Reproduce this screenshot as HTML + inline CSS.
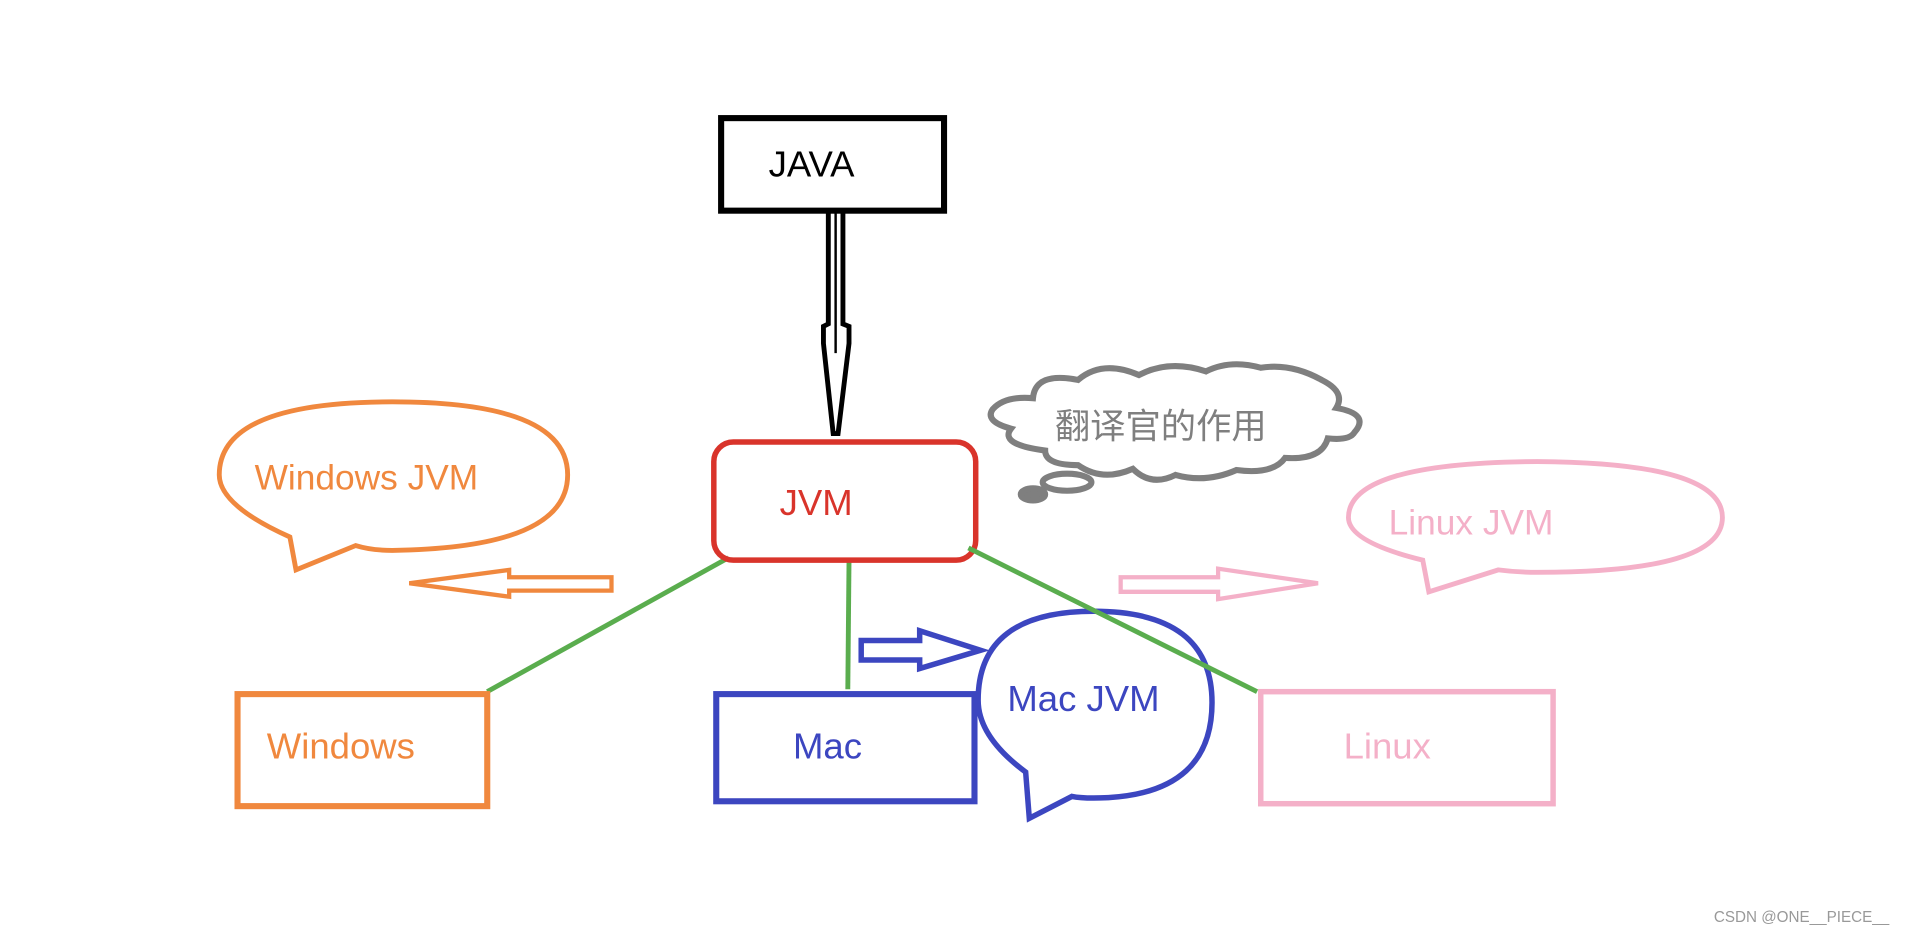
<!DOCTYPE html>
<html><head><meta charset="utf-8"><style>
html,body{margin:0;padding:0;background:#fff;}
svg{display:block;}
text{font-family:"Liberation Sans","Noto Sans CJK SC",sans-serif;}
</style></head><body>
<svg width="1910" height="934" viewBox="0 0 1568 767" preserveAspectRatio="none" xmlns="http://www.w3.org/2000/svg">
<rect width="1568" height="767" fill="#fff"/>
<!-- JAVA box -->
<rect x="592" y="97" width="183" height="76" fill="none" stroke="#000" stroke-width="5"/>
<text x="631" y="145" font-size="30" fill="#000">JAVA</text>
<!-- double arrow -->
<path d="M680 174 L680 266 L676 268 L676 282 L684 356 L688 356 L697 282 L697 268 L692 266 L692 174" fill="none" stroke="#000" stroke-width="4"/>
<path d="M686 174 L686 290" stroke="#000" stroke-width="2"/>
<!-- green lines -->
<g stroke="#5aad4e" stroke-width="4" fill="none">
<line x1="598" y1="458" x2="400" y2="568"/>
<line x1="697" y1="460" x2="696" y2="566"/>
</g>
<!-- JVM box -->
<rect x="586" y="363" width="215" height="97" rx="16" fill="none" stroke="#d9342b" stroke-width="4.5"/>
<text x="640" y="423" font-size="30" fill="#d9342b">JVM</text>
<!-- cloud -->
<g fill="#fff" stroke="#7f7f7f" stroke-width="5">
<path d="M848 327 Q850 305 885 312 Q905 295 935 308 Q960 295 990 305 Q1010 295 1035 302 Q1060 298 1085 312 Q1105 322 1097 335 Q1125 340 1112 355 Q1108 362 1090 360 Q1085 378 1055 376 Q1045 390 1015 386 Q990 397 965 390 Q945 400 930 385 Q905 396 885 382 Q858 382 858 370 Q820 365 830 352 Q808 346 815 336 Q825 325 848 327 Z"/>
<ellipse cx="876" cy="396" rx="20" ry="7"/>
<ellipse cx="848" cy="406" rx="10" ry="5" fill="#7f7f7f"/>
</g>
<text x="866" y="360" font-size="29" fill="#7f7f7f">翻译官的作用</text>
<!-- Windows JVM bubble -->
<path d="M238 441 Q180 415 180 390 Q180 330 322 330 Q466 330 466 390 Q466 450 322 452 Q305 452 292 448 L243 468 Z" fill="none" stroke="#f0883e" stroke-width="4"/>
<text x="209" y="402" font-size="29" fill="#f0883e">Windows JVM</text>
<!-- orange arrow -->
<path d="M502 474 L418 474 L418 468 L336 479 L418 490 L418 485 L502 485 Z" fill="none" stroke="#f0883e" stroke-width="3.5"/>
<!-- Linux JVM bubble -->
<path d="M1168 460 Q1107 445 1107 425 Q1107 380 1262 379 Q1414 380 1414 425 Q1414 470 1262 470 Q1245 470 1230 468 L1173 486 Z" fill="none" stroke="#f4b0c8" stroke-width="4"/>
<text x="1140" y="439" font-size="29" fill="#f4b0c8">Linux  JVM</text>
<!-- pink arrow -->
<path d="M920 474 L1000 474 L1000 467 L1082 479 L1000 492 L1000 486 L920 486 Z" fill="none" stroke="#f4b0c8" stroke-width="3.5"/>
<!-- boxes -->
<rect x="195" y="570" width="205" height="92" fill="none" stroke="#f0883e" stroke-width="5"/>
<text x="219" y="623" font-size="30" fill="#f0883e">Windows</text>
<rect x="588" y="570" width="212" height="88" fill="none" stroke="#3c46c0" stroke-width="5"/>
<text x="651" y="623" font-size="30" fill="#3c46c0">Mac</text>
<rect x="1035" y="568" width="240" height="92" fill="none" stroke="#f4b0c8" stroke-width="4.5"/>
<text x="1103" y="623" font-size="30" fill="#f4b0c8">Linux</text>
<!-- Mac JVM bubble -->
<path d="M842 634 Q803 605 803 575 Q803 502 898 502 Q995 502 995 577 Q995 650 910 655 Q890 656 880 654 L845 672 Z" fill="#fff" stroke="#3c46c0" stroke-width="4.5"/>
<text x="827" y="584" font-size="30" fill="#3c46c0">Mac JVM</text>
<!-- blue arrow -->
<path d="M707 526 L755 526 L755 518 L805 534 L755 549 L755 542 L707 542 Z" fill="none" stroke="#3c46c0" stroke-width="4.5"/>
<line x1="795" y1="450" x2="1032" y2="568" stroke="#5aad4e" stroke-width="4"/>
<text x="1407" y="757" font-size="12.5" fill="#999">CSDN @ONE__PIECE__</text>
</svg>
</body></html>
